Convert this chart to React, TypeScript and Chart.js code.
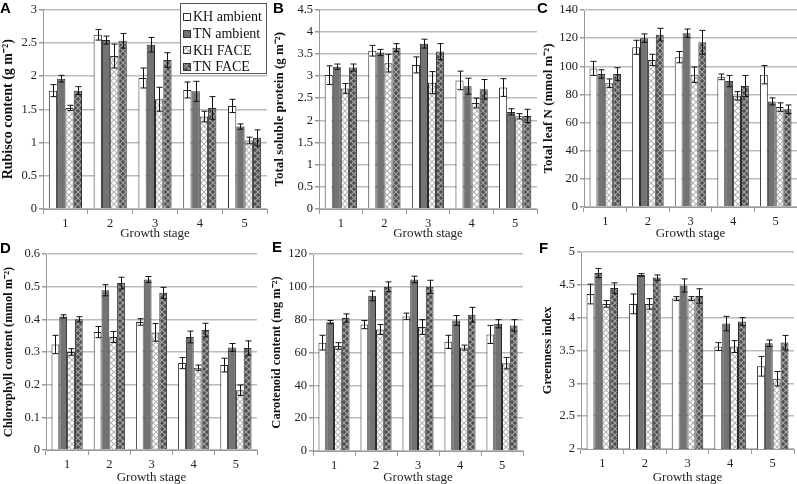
import React, { useEffect, useRef } from 'react';
import { Chart, registerables } from 'chart.js';
Chart.register(...registerables);

const stages = ['1', '2', '3', '4', '5'];
const seriesNames = ['KH ambient', 'TN ambient', 'KH FACE', 'TN FACE'];
const xTitle = 'Growth stage';

// A: Rubisco content
const rubiscoKHAmbient = [1.78, 2.62, 1.97, 1.79, 1.55];
const rubiscoTNAmbient = [1.96, 2.54, 2.47, 1.77, 1.24];
const rubiscoKHFACE = [1.52, 2.3, 1.65, 1.39, 1.03];
const rubiscoTNFACE = [1.78, 2.53, 2.24, 1.52, 1.07];
const rubiscoErrKHAmbient = [0.09, 0.08, 0.15, 0.12, 0.1];
const rubiscoErrTNAmbient = [0.05, 0.06, 0.11, 0.15, 0.04];
const rubiscoErrKHFACE = [0.04, 0.18, 0.18, 0.08, 0.05];
const rubiscoErrTNFACE = [0.06, 0.11, 0.11, 0.17, 0.12];
const rubiscoTicks = { min: 0, max: 3, step: 0.5 };

// B: Total soluble protein
const proteinKHAmbient = [3.02, 3.57, 3.25, 2.9, 2.74];
const proteinTNAmbient = [3.21, 3.53, 3.73, 2.77, 2.19];
const proteinKHFACE = [2.72, 3.29, 2.85, 2.39, 2.09];
const proteinTNFACE = [3.19, 3.64, 3.55, 2.7, 2.1];
const proteinErrKHAmbient = [0.21, 0.12, 0.18, 0.21, 0.2];
const proteinErrTNAmbient = [0.06, 0.07, 0.1, 0.18, 0.07];
const proteinErrKHFACE = [0.11, 0.2, 0.25, 0.11, 0.06];
const proteinErrTNFACE = [0.08, 0.09, 0.18, 0.22, 0.15];
const proteinTicks = { min: 0, max: 4.5, step: 0.5 };

// C: Total leaf N
const leafNKHAmbient = [98.5, 113.5, 106.5, 92.5, 94];
const leafNTNAmbient = [94.5, 120, 123.5, 89.5, 75];
const leafNKHFACE = [88, 104.5, 94, 79, 71];
const leafNTNFACE = [94.5, 122.5, 117, 86, 69.5];
const leafNErrKHAmbient = [5, 5, 4, 2, 6.5];
const leafNErrTNAmbient = [3, 3, 3, 4, 2.5];
const leafNErrKHFACE = [3, 4, 5.5, 3, 3];
const leafNErrTNFACE = [4.5, 4.5, 8.5, 7.5, 3];
const leafNTicks = { min: 0, max: 140, step: 20 };

// D: Chlorophyll content
const chlKHAmbient = [0.323, 0.361, 0.392, 0.266, 0.26];
const chlTNAmbient = [0.409, 0.489, 0.522, 0.346, 0.314];
const chlKHFACE = [0.3, 0.346, 0.36, 0.252, 0.183];
const chlTNFACE = [0.4, 0.511, 0.481, 0.367, 0.312];
const chlErrKHAmbient = [0.028, 0.017, 0.01, 0.017, 0.021];
const chlErrTNAmbient = [0.005, 0.017, 0.009, 0.018, 0.012];
const chlErrKHFACE = [0.01, 0.017, 0.027, 0.008, 0.016];
const chlErrTNFACE = [0.008, 0.018, 0.017, 0.021, 0.022];
const chlTicks = { min: 0, max: 0.6, step: 0.1 };

// E: Carotenoid content
const carKHAmbient = [66, 77, 82, 66.5, 71];
const carTNAmbient = [78.5, 94.5, 104.5, 79.5, 77.5];
const carKHFACE = [64, 74, 75.5, 63, 53.5];
const carTNFACE = [81, 100, 100, 83, 76.5];
const carErrKHAmbient = [4.5, 2.5, 2, 4, 5.5];
const carErrTNAmbient = [1, 3, 2, 3, 2.5];
const carErrKHFACE = [2, 3, 4.5, 1.5, 3.5];
const carErrTNFACE = [2.5, 3, 4, 4.5, 3.5];
const carTicks = { min: 0, max: 120, step: 20 };

// F: Greenness index
const greenKHAmbient = [4.36, 4.21, 4.29, 3.56, 3.26];
const greenTNAmbient = [4.68, 4.65, 4.49, 3.91, 3.61];
const greenKHFACE = [4.21, 4.21, 4.29, 3.56, 3.07];
const greenTNFACE = [4.45, 4.61, 4.33, 3.94, 3.62];
const greenErrKHAmbient = [0.15, 0.15, 0.03, 0.06, 0.15];
const greenErrTNAmbient = [0.07, 0.02, 0.1, 0.11, 0.05];
const greenErrKHFACE = [0.05, 0.08, 0.03, 0.09, 0.11];
const greenErrTNFACE = [0.08, 0.04, 0.11, 0.06, 0.11];
const greenTicks = { min: 2, max: 5, step: 0.5 };

const SERIF = 'Liberation Serif';

type PanelCfg = {
  letter: string;
  letterPos: [number, number];
  title: string;
  titleSize: number;
  titleOffset: number;
  canvas: { x: number; y: number; w: number; h: number };
  plot: { l: number; t: number; r: number; b: number };
  ticks: { min: number; max: number; step: number };
  values: number[][];
  errors: number[][];
  legend?: boolean;
};

const panels: PanelCfg[] = [
  {
    letter: 'A', letterPos: [0, 0], title: 'Rubisco content (g m⁻²)', titleSize: 14, titleOffset: 8,
    canvas: { x: 0, y: 0, w: 270, h: 240 }, plot: { l: 43, t: 6, r: 267, b: 209 },
    ticks: rubiscoTicks,
    values: [rubiscoKHAmbient, rubiscoTNAmbient, rubiscoKHFACE, rubiscoTNFACE],
    errors: [rubiscoErrKHAmbient, rubiscoErrTNAmbient, rubiscoErrKHFACE, rubiscoErrTNFACE],
    legend: true,
  },
  {
    letter: 'B', letterPos: [273, 0], title: 'Total soluble protein (g m⁻²)', titleSize: 13, titleOffset: 10,
    canvas: { x: 270, y: 0, w: 270, h: 240 }, plot: { l: 319, t: 5, r: 537, b: 209 },
    ticks: proteinTicks,
    values: [proteinKHAmbient, proteinTNAmbient, proteinKHFACE, proteinTNFACE],
    errors: [proteinErrKHAmbient, proteinErrTNAmbient, proteinErrKHFACE, proteinErrTNFACE],
  },
  {
    letter: 'C', letterPos: [537, 0], title: 'Total leaf N (mmol m⁻²)', titleSize: 13, titleOffset: 8.5,
    canvas: { x: 540, y: 0, w: 257, h: 240 }, plot: { l: 584, t: 10, r: 797, b: 207 },
    ticks: leafNTicks,
    values: [leafNKHAmbient, leafNTNAmbient, leafNKHFACE, leafNTNFACE],
    errors: [leafNErrKHAmbient, leafNErrTNAmbient, leafNErrKHFACE, leafNErrTNFACE],
  },
  {
    letter: 'D', letterPos: [0, 240], title: 'Chlorophyll content (mmol m⁻²)', titleSize: 12.5, titleOffset: 9,
    canvas: { x: 0, y: 240, w: 269, h: 244 }, plot: { l: 46, t: 254, r: 257, b: 450 },
    ticks: chlTicks,
    values: [chlKHAmbient, chlTNAmbient, chlKHFACE, chlTNFACE],
    errors: [chlErrKHAmbient, chlErrTNAmbient, chlErrKHFACE, chlErrTNFACE],
  },
  {
    letter: 'E', letterPos: [272, 239], title: 'Carotenoid content (mg m⁻²)', titleSize: 12.5, titleOffset: 8,
    canvas: { x: 269, y: 240, w: 271, h: 244 }, plot: { l: 313, t: 254, r: 523, b: 451 },
    ticks: carTicks,
    values: [carKHAmbient, carTNAmbient, carKHFACE, carTNFACE],
    errors: [carErrKHAmbient, carErrTNAmbient, carErrKHFACE, carErrTNFACE],
  },
  {
    letter: 'F', letterPos: [539, 240], title: 'Greenness index', titleSize: 12.5, titleOffset: 8,
    canvas: { x: 540, y: 240, w: 257, h: 244 }, plot: { l: 581, t: 252, r: 794, b: 449 },
    ticks: greenTicks,
    values: [greenKHAmbient, greenTNAmbient, greenKHFACE, greenTNFACE],
    errors: [greenErrKHAmbient, greenErrTNAmbient, greenErrKHFACE, greenErrTNFACE],
  },
];

function makePattern(ctx: CanvasRenderingContext2D, bg: string, fg: string): CanvasPattern | string {
  const c = document.createElement('canvas');
  c.width = 6;
  c.height = 6;
  const g = c.getContext('2d')!;
  g.fillStyle = bg;
  g.fillRect(0, 0, 6, 6);
  g.strokeStyle = fg;
  g.lineWidth = 1.1;
  g.beginPath();
  g.moveTo(0, 0); g.lineTo(6, 6);
  g.moveTo(6, 0); g.lineTo(0, 6);
  g.stroke();
  return ctx.createPattern(c, 'repeat') || bg;
}

function Panel({ cfg }: { cfg: PanelCfg }) {
  const ref = useRef<HTMLCanvasElement>(null);
  useEffect(() => {
    const canvas = ref.current!;
    const ctx = canvas.getContext('2d')!;
    const khFace = makePattern(ctx, '#ffffff', '#b4b4b4');
    const tnFace = makePattern(ctx, '#4e4e4e', '#a6a6a6');
    const fills = ['#ffffff', '#737373', khFace, tnFace];
    const { canvas: cv, plot } = cfg;
    const yWidth = plot.l - cv.x;
    const xHeight = cv.y + cv.h - plot.b;
    const padTop = plot.t - cv.y;
    const padRight = cv.x + cv.w - plot.r;

    const errorBars = {
      id: 'errorBars' + cfg.letter,
      afterDatasetsDraw(chart: any) {
        const c = chart.ctx;
        const ys = chart.scales.y;
        c.save();
        c.strokeStyle = '#111';
        c.lineWidth = 1;
        chart.data.datasets.forEach((ds: any, i: number) => {
          const meta = chart.getDatasetMeta(i);
          meta.data.forEach((el: any, j: number) => {
            const v = ds.data[j];
            const e = cfg.errors[i][j];
            const x = Math.round(el.x) + 0.5;
            const yt = ys.getPixelForValue(v + e);
            const yb = ys.getPixelForValue(v - e);
            c.beginPath();
            c.moveTo(x, yt); c.lineTo(x, yb);
            c.moveTo(x - 3, yt); c.lineTo(x + 3, yt);
            c.moveTo(x - 3, yb); c.lineTo(x + 3, yb);
            c.stroke();
          });
        });
        c.restore();
      },
    };

    const legendPlugin = {
      id: 'boxLegend',
      afterDraw(chart: any) {
        if (!cfg.legend) return;
        const c = chart.ctx;
        const bx = 180.5, by = 3.5, bw = 86, bh = 70;
        c.save();
        c.fillStyle = '#fff';
        c.fillRect(bx, by, bw, bh);
        c.strokeStyle = '#555';
        c.lineWidth = 1;
        c.strokeRect(bx, by, bw, bh);
        c.font = '14px "' + SERIF + '"';
        c.textBaseline = 'middle';
        c.textAlign = 'left';
        seriesNames.forEach((name, i) => {
          const cy = 17 + i * 16.7;
          c.fillStyle = fills[i];
          c.fillRect(183.5, Math.round(cy) - 3.5, 7, 7);
          c.strokeStyle = '#333';
          c.strokeRect(183.5, Math.round(cy) - 3.5, 7, 7);
          c.fillStyle = '#111';
          c.fillText(name, 193, cy + 0.5);
        });
        c.restore();
      },
    };

    const chart = new Chart(canvas, {
      type: 'bar',
      data: {
        labels: stages,
        datasets: seriesNames.map((name, i) => ({
          label: name,
          data: cfg.values[i],
          backgroundColor: fills[i] as any,
          borderColor: '#2a2a2a',
          borderWidth: 1,
          categoryPercentage: 0.74,
          barPercentage: 1.0,
        })),
      },
      options: {
        animation: false,
        responsive: false,
        devicePixelRatio: 1,
        layout: { padding: { top: padTop, right: padRight, left: 0, bottom: 0 } },
        plugins: { legend: { display: false }, tooltip: { enabled: false } },
        scales: {
          x: {
            grid: { display: true, drawOnChartArea: false, drawTicks: true, tickLength: 5, color: '#999', offset: true },
            border: { display: true, color: '#999', width: 1 },
            ticks: { color: '#222', padding: 2, font: { family: SERIF, size: 12.5 } },
            title: {
              display: true, text: xTitle, color: '#222',
              font: { family: SERIF, size: 13, lineHeight: 1 }, padding: { top: 0, bottom: 0 },
            },
            afterFit: (s: any) => { s.height = xHeight; },
          },
          y: {
            min: cfg.ticks.min,
            max: cfg.ticks.max,
            ticks: {
              stepSize: cfg.ticks.step, color: '#222', padding: 2, font: { family: SERIF, size: 12.5 },
              callback: (v: any) => String(Number(Number(v).toFixed(3))),
            },
            grid: { color: '#bbbbbb', lineWidth: 1.5, tickLength: 4, drawTicks: true, tickColor: '#999' },
            border: { display: true, color: '#999', width: 1 },
            title: {
              display: true, text: cfg.title, color: '#111',
              font: { family: SERIF, size: cfg.titleSize, weight: 'bold', lineHeight: 1 },
              padding: { top: cfg.titleOffset - cfg.titleSize / 2, bottom: 0 },
            },
            afterFit: (s: any) => { s.width = yWidth; },
          },
        },
      },
      plugins: [errorBars, legendPlugin],
    });
    return () => chart.destroy();
  }, [cfg]);

  return (
    <>
      <canvas
        ref={ref}
        width={cfg.canvas.w}
        height={cfg.canvas.h}
        style={{ position: 'absolute', left: cfg.canvas.x, top: cfg.canvas.y, width: cfg.canvas.w, height: cfg.canvas.h }}
      />
      <div
        style={{
          position: 'absolute', left: cfg.letterPos[0], top: cfg.letterPos[1],
          font: 'bold 15px "Liberation Sans", Arial, sans-serif', lineHeight: '15px', color: '#000',
        }}
      >
        {cfg.letter}
      </div>
    </>
  );
}

export default function App() {
  return (
    <div style={{ position: 'absolute', left: 0, top: 0, width: 797, height: 484, background: '#fff', overflow: 'hidden' }}>
      {panels.map((p) => (
        <Panel key={p.letter} cfg={p} />
      ))}
    </div>
  );
}
